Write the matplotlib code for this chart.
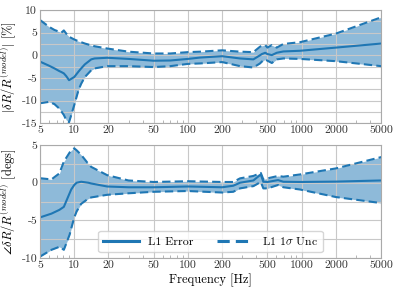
import matplotlib
matplotlib.use('Agg')
import matplotlib.pyplot as plt
from matplotlib.ticker import FixedLocator, NullFormatter

plt.rcParams['font.family'] = 'serif'
plt.rcParams['font.serif'] = ['cmr10', 'DejaVu Serif']
plt.rcParams['mathtext.fontset'] = 'cm'
plt.rcParams['axes.unicode_minus'] = False

# magnitude panel data
freq_mag = [5, 6, 6.7, 7.4, 7.7, 8.1, 8.5, 9.0, 10, 10.9, 11.5, 12.4, 14.1, 15.1, 19.5, 30, 50, 70,
            100, 128, 200, 287, 376, 430, 446, 478, 500, 546, 604, 690, 968, 2000, 5000]
mag_err = [-1.4, -2.3, -2.9, -3.5, -3.7, -4.0, -4.6, -5.5, -4.8, -3.6, -2.9, -2.0, -0.9, -0.7, -0.55,
           -0.8, -1.2, -1.15, -0.8, -0.5, -0.2, -0.7, -0.9, 0.0, 0.27, 0.56, 0.27, 0.04, 0.56, 0.85,
           1.0, 1.7, 2.6]
mag_hi = [7.8, 6.3, 5.6, 5.2, 5.0, 5.5, 4.8, 4.1, 3.5, 3.1, 2.9, 2.6, 2.2, 2.0, 1.5, 0.8, 0.4, 0.4,
          0.7, 0.8, 1.1, 0.8, 0.7, 1.9, 2.1, 2.25, 1.7, 2.25, 1.7, 2.5, 2.9, 4.8, 8.4]
mag_lo = [-10.6, -10.3, -10.8, -11.8, -12.4, -13.2, -14.3, -14.8, -11.0, -7.7, -6.3, -4.8, -3.3, -2.9,
          -2.4, -2.4, -2.6, -2.4, -1.9, -1.8, -1.5, -2.4, -2.7, -1.8, -1.4, -0.9, -1.2, -1.7, -0.9,
          -0.7, -0.8, -1.3, -2.4]

# phase panel data
freq_pha = [5, 6.3, 7.4, 8.1, 9.1, 9.4, 10, 10.5, 11.5, 13.3, 14.1, 19.5, 30, 50, 100, 200, 250,
            287, 376, 437, 460, 500, 620, 690, 968, 2000, 5000]
pha_err = [-4.6, -4.1, -3.6, -3.2, -1.4, -0.9, -0.3, 0.0, 0.13, 0.0, -0.1, -0.5, -0.6, -0.6, -0.5,
           -0.6, -0.4, 0.0, 0.3, 1.1, 0.13, 0.1, 0.35, 0.13, 0.1, 0.15, 0.3]
pha_hi = [0.6, 0.44, 1.24, 2.8, 4.0, 4.3, 4.56, 4.3, 3.7, 2.5, 2.1, 1.0, 0.3, 0.1, 0.2, 0.1, 0.1,
          0.58, 0.9, 1.3, 0.44, 0.58, 0.9, 0.8, 1.1, 1.9, 3.4]
pha_lo = [-9.8, -8.9, -8.5, -8.9, -6.9, -6.1, -4.6, -3.8, -2.8, -2.1, -1.95, -1.6, -1.4, -1.2, -1.1,
          -1.3, -1.2, -0.75, -0.45, 0.1, -0.75, -0.75, -0.3, -0.6, -0.9, -1.9, -2.7]

xticks = [5, 10, 20, 50, 100, 200, 500, 1000, 2000, 5000]
minor_x = [6, 7, 8, 9, 30, 40, 60, 70, 80, 90, 300, 400, 600, 700, 800, 900, 3000, 4000]
color = '#1f77b4'

fig = plt.figure(figsize=(3.99, 2.96), dpi=100)
ax1 = fig.add_axes([0.1003, 0.584, 0.855, 0.382])
ax2 = fig.add_axes([0.1003, 0.128, 0.855, 0.382])


def draw(ax, f, err, hi, lo, yticks, yminor, ylim):
    ax.fill_between(f, lo, hi, color=color, alpha=0.5, lw=0)
    ax.plot(f, err, color=color, lw=1.5, label='L1 Error')
    ax.plot(f, hi, color=color, lw=1.5, ls=(0, (4, 2)), label=r'L1 1$\sigma$ Unc')
    ax.plot(f, lo, color=color, lw=1.5, ls=(0, (4, 2)))
    ax.set_xscale('log')
    ax.set_xlim(5, 5000)
    ax.set_ylim(*ylim)
    ax.xaxis.set_major_locator(FixedLocator(xticks))
    ax.set_xticklabels([str(t) for t in xticks])
    ax.xaxis.set_minor_locator(FixedLocator(minor_x))
    ax.xaxis.set_minor_formatter(NullFormatter())
    ax.yaxis.set_major_locator(FixedLocator(yticks))
    ax.set_yticklabels([str(t) for t in yticks])
    ax.yaxis.set_minor_locator(FixedLocator(yminor))
    ax.grid(which='major', color='#c8c8c8', lw=0.8)
    ax.grid(which='minor', axis='y', color='#c8c8c8', lw=0.8)
    ax.tick_params(which='major', length=0, labelsize=8.5, pad=2, colors='#333333')
    ax.tick_params(which='minor', direction='in', length=2, color='#aaaaaa')
    ax.tick_params(axis='y', which='minor', length=0)
    for s in ax.spines.values():
        s.set_color('#aaaaaa')
        s.set_linewidth(0.8)


draw(ax1, freq_mag, mag_err, mag_hi, mag_lo, [-15, -10, -5, 0, 5, 10],
     [-12.5, -7.5, -2.5, 2.5, 7.5], (-15, 10))
draw(ax2, freq_pha, pha_err, pha_hi, pha_lo, [-10, -5, 0, 5],
     [-7.5, -2.5, 2.5], (-10, 5))

ax1.set_ylabel(r'$|\delta R/R^{(model)}|$ [%]', fontsize=9, labelpad=2)
ax2.set_ylabel(r'$\angle\delta R/R^{(model)}$ [degs]', fontsize=9, labelpad=2)
ax2.set_xlabel('Frequency [Hz]', fontsize=9, labelpad=2)
leg = ax2.legend(loc='lower center', ncol=2, fontsize=8.5, handlelength=3, columnspacing=2.0,
                 borderaxespad=0.5, framealpha=0.8)
for h in leg.get_lines():
    h.set_linewidth(2.2)

fig.savefig('out.png', dpi=100)
